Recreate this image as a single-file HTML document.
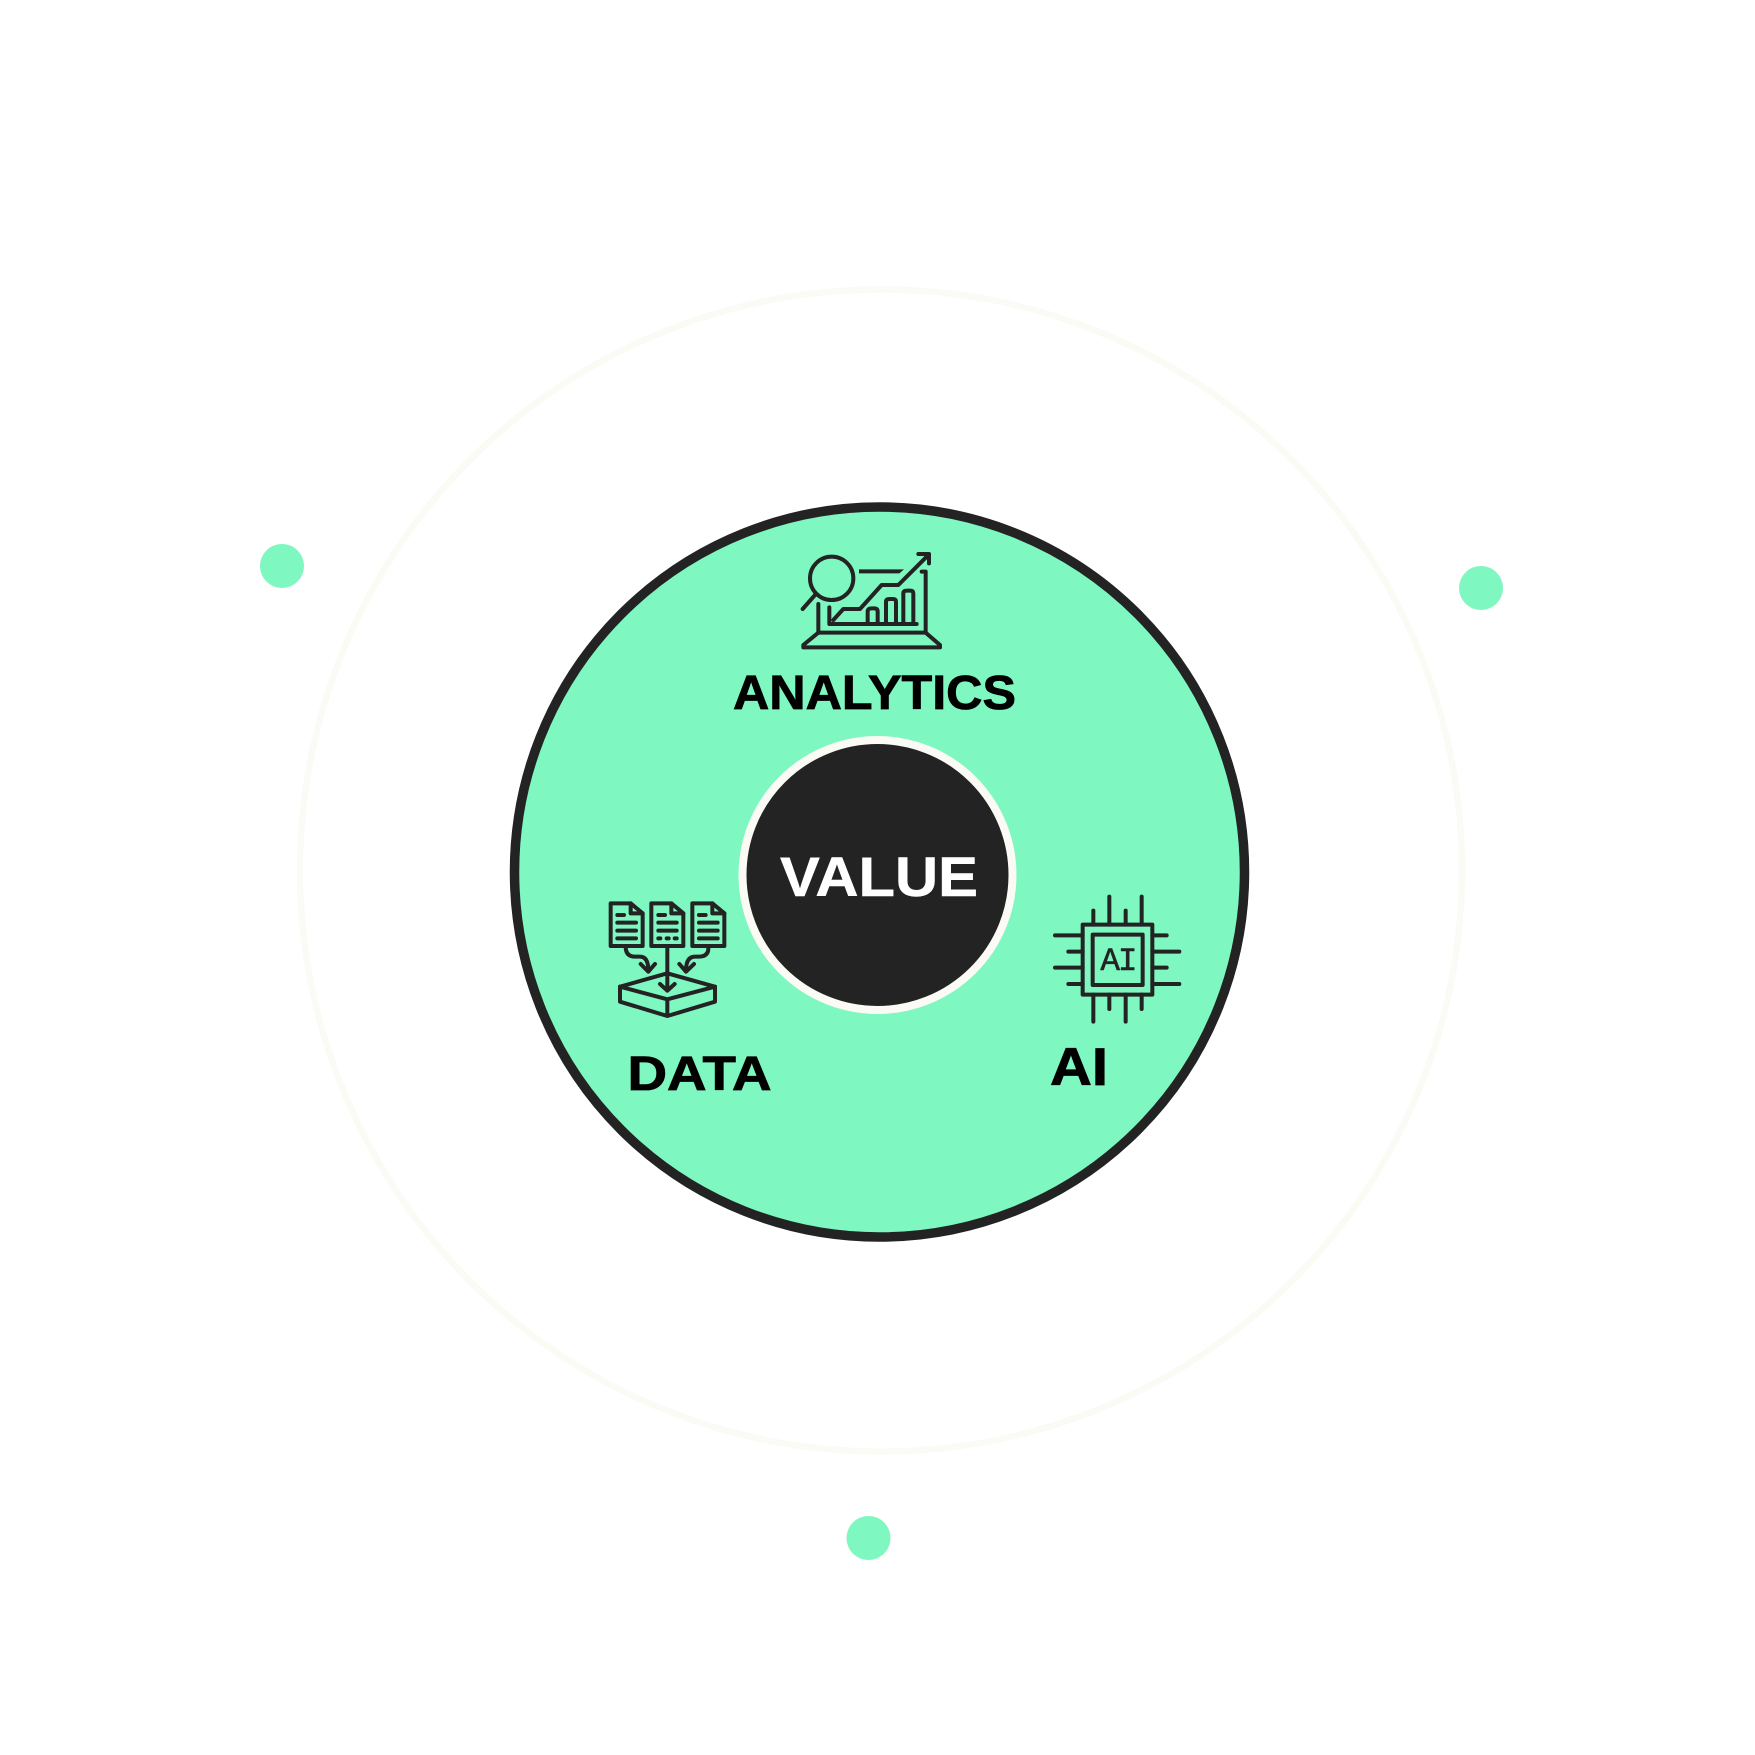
<!DOCTYPE html>
<html>
<head>
<meta charset="utf-8">
<style>
html,body{margin:0;padding:0;background:#fff;}
svg{display:block;}
text{font-family:"Liberation Sans",sans-serif;font-weight:700;}
</style>
</head>
<body>
<svg width="1755" height="1755" viewBox="0 0 1755 1755" xmlns="http://www.w3.org/2000/svg">
<rect width="1755" height="1755" fill="#fff"/>
<circle cx="881" cy="870.5" r="581" fill="none" stroke="#fbfbf5" stroke-width="6.5"/>
<circle cx="282" cy="566" r="22" fill="#7ef7c0"/>
<circle cx="1481" cy="588" r="22" fill="#7ef7c0"/>
<circle cx="868.5" cy="1538" r="22" fill="#7ef7c0"/>
<circle cx="879.5" cy="872" r="365" fill="#7ef7c0" stroke="#232323" stroke-width="9.5"/>
<circle cx="877.5" cy="875" r="135" fill="#232323" stroke="#fbfaf4" stroke-width="8"/>

<text x="780" y="896" font-size="56" fill="#fff" textLength="198" lengthAdjust="spacingAndGlyphs" stroke="#fff" stroke-width=".5">VALUE</text>
<text x="733" y="709" font-size="48" fill="#000" textLength="283" lengthAdjust="spacingAndGlyphs" stroke="#000" stroke-width=".8">ANALYTICS</text>
<text x="627.5" y="1090" font-size="48" fill="#000" textLength="144" lengthAdjust="spacingAndGlyphs" stroke="#000" stroke-width=".8">DATA</text>
<text x="1050" y="1085" font-size="53" fill="#000" textLength="58" lengthAdjust="spacingAndGlyphs" stroke="#000" stroke-width=".8">AI</text>

<g transform="translate(780 530) scale(.33333)" fill="none" stroke="#232323" stroke-width="12" stroke-linecap="round" stroke-linejoin="round">
<circle cx="155" cy="145" r="65"/>
<path d="M105 195L68 237"/>
<path d="M237 118H372L358 130H237Z" fill="#232323" stroke="none"/>
<path d="M160 270L190 237H240L305 165H355L440 80"/>
<path d="M415 72H447V100"/>
<path d="M115 222V308H437V125H425"/>
<path d="M115 308L70 345V352H480V345L437 308"/>
<path d="M148 232V282H410"/>
<path d="M263 280V245Q263 235 275 235H283Q293 235 293 245V280"/>
<path d="M318 280V215Q318 207 330 207H338Q348 207 348 215V280"/>
<path d="M370 280V190Q370 182 382 182H390Q400 182 400 190V280"/>
</g>

<g transform="translate(590 880) scale(.33333)" fill="none" stroke="#232323" stroke-width="12" stroke-linecap="round" stroke-linejoin="round">
<path d="M62 70H122L158 100V198H62Z"/>
<path d="M122 70V100H158"/>
<path d="M82 105H102M82 128H138M82 152H138M82 175H138"/>
<path d="M184 70H244L280 100V198H184Z"/>
<path d="M244 70V100H280"/>
<path d="M205 105H225M205 128H260M205 152H260M205 175H211M230 175H236M254 175H260"/>
<path d="M307 70H367L403 100V198H307Z"/>
<path d="M367 70V100H403"/>
<path d="M327 105H347M327 128H383M327 152H383M327 175H383"/>
<path d="M232 198V332M210 312L232 332L254 312"/>
<path d="M107 200Q107 230 135 230H150Q175 230 175 272M152 252L175 275L195 252"/>
<path d="M355 205Q355 230 325 230H315Q288 230 288 272M268 252L288 275L312 252"/>
<path d="M232 280L375 320L232 358L90 320Z"/>
<path d="M90 320V365L232 408L375 365V320M232 358V408"/>
</g>

<g transform="translate(1030 880) scale(.33333)" fill="none" stroke="#232323" stroke-width="12" stroke-linecap="round" stroke-linejoin="round">
<rect x="158" y="134" width="209" height="210"/>
<rect x="188" y="164" width="150" height="151"/>
<path d="M75 166H158M115 215H158M75 263H158M115 312H158"/>
<path d="M367 166H410M367 215H448M367 263H410M367 312H448"/>
<path d="M190 92V134M238 50V134M287 92V134M335 50V134"/>
<path d="M190 344V425M238 344V387M287 344V425M335 344V387"/>
<text x="211" y="270" font-size="98" fill="#232323" stroke="#232323" stroke-width="1.5" stroke-linecap="butt" letter-spacing="-6" style="font-family:'Liberation Mono',monospace;font-weight:400">AI</text>
</g>
</svg>
</body>
</html>
